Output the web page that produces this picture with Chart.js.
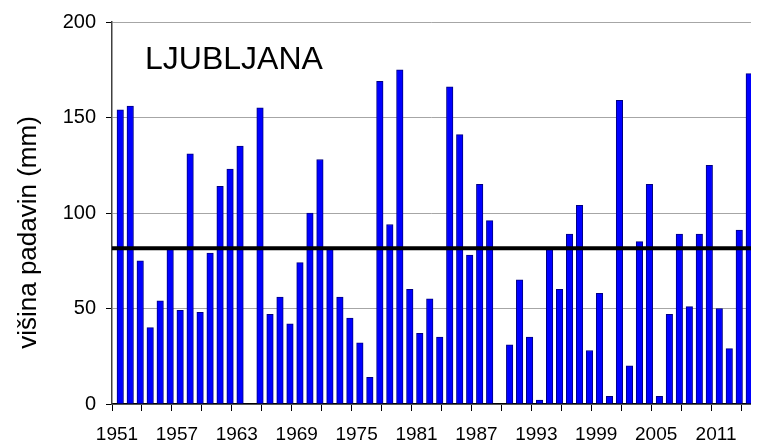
<!DOCTYPE html>
<html>
<head>
<meta charset="utf-8">
<script src="https://cdn.jsdelivr.net/npm/chart.js@4.4.0/dist/chart.umd.min.js"></script>
<style>
html,body{margin:0;padding:0;background:#fff;}
#wrap{width:758px;height:446px;position:relative;}
canvas{display:block;}
</style>
</head>
<body>
<div id="wrap"><canvas id="c" width="758" height="446"></canvas></div>
<script>
// ---- data ----
const years = [
  '1951','1952','1953','1954','1955','1956','1957','1958','1959','1960',
  '1961','1962','1963','1964','1965','1966','1967','1968','1969','1970',
  '1971','1972','1973','1974','1975','1976','1977','1978','1979','1980',
  '1981','1982','1983','1984','1985','1986','1987','1988','1989','1990',
  '1991','1992','1993','1994','1995','1996','1997','1998','1999','2000',
  '2001','2002','2003','2004','2005','2006','2007','2008','2009','2010',
  '2011','2012','2013','2014'
];
const precipitation = [
  154, 156, 75, 40, 54, 82, 49, 131, 48, 79,
  114, 123, 135, null, 155, 47, 56, 42, 74, 100,
  128, 82, 56, 45, 32, 14, 169, 94, 175, 60,
  37, 55, 35, 166, 141, 78, 115, 96, null, 31,
  65, 35, 2, 82, 60, 89, 104, 28, 58, 4,
  159, 20, 85, 115, 4, 47, 89, 51, 89, 125,
  50, 29, 91, 173
];
const meanLabels = ['1951', '2014'];
const meanLine = [81.5, 81.5];
const yTicks = [0, 50, 100, 150, 200];
const chartTitle = 'LJUBLJANA';
const yTitle = 'višina padavin (mm)';

// ---- text plugin ----
const textPlugin = {
  id: 'texts',
  afterDraw(chart) {
    const ctx = chart.ctx;
    ctx.save();
    ctx.fillStyle = '#000';
    ctx.font = '32px "Liberation Sans", Arial, sans-serif';
    ctx.textAlign = 'left';
    ctx.textBaseline = 'alphabetic';
    ctx.fillText(chartTitle, 145, 69);
    ctx.translate(36, 232.5);
    ctx.rotate(-Math.PI / 2);
    ctx.font = '26px "Liberation Sans", Arial, sans-serif';
    ctx.textAlign = 'center';
    ctx.fillText(yTitle, 0, 0);
    ctx.restore();
  }
};

new Chart(document.getElementById('c'), {
  type: 'bar',
  data: {
    labels: years,
    datasets: [
      {
        type: 'line',
        xAxisID: 'x2',
        data: meanLine,
        borderColor: '#000',
        borderWidth: 4,
        pointRadius: 0,
        borderCapStyle: 'butt',
        order: 0
      },
      {
        type: 'bar',
        xAxisID: 'x',
        data: precipitation,
        backgroundColor: '#0000ff',
        borderColor: '#000080',
        borderWidth: 1,
        barThickness: 6.5,
        order: 1
      }
    ]
  },
  options: {
    responsive: false,
    animation: false,
    devicePixelRatio: 1,
    layout: { padding: { top: 22, right: 1, left: 0, bottom: 0 } },
    plugins: { legend: { display: false }, tooltip: { enabled: false } },
    scales: {
      x: {
        type: 'category',
        offset: true,
        grid: {
          offset: true,
          drawOnChartArea: false,
          drawTicks: true,
          tickLength: 7,
          tickWidth: 1,
          tickColor: (ctx) => (ctx.index !== undefined && ctx.index % 3 === 0) ? '#000' : 'rgba(0,0,0,0)'
        },
        border: { color: '#000', width: 1.5 },
        ticks: {
          autoSkip: false,
          maxRotation: 0,
          minRotation: 0,
          padding: 12,
          color: '#000',
          font: { family: '"Liberation Sans", Arial, sans-serif', size: 19 },
          callback: function (v, i) { return i % 6 === 0 ? this.getLabelForValue(v) : ''; }
        },
        afterFit: (s) => { s.height = 42; }
      },
      x2: {
        type: 'category',
        labels: meanLabels,
        offset: false,
        display: false
      },
      y: {
        min: 0,
        max: 200,
        afterBuildTicks: (s) => { s.ticks = yTicks.map(v => ({ value: v })); },
        ticks: {
          padding: 10,
          color: '#000',
          font: { family: '"Liberation Sans", Arial, sans-serif', size: 20 }
        },
        grid: { color: '#a6a6a6', lineWidth: 1, tickLength: 6, tickColor: '#000' },
        border: { color: '#404040', width: 1.5 },
        afterFit: (s) => { s.width = 112; }
      }
    }
  },
  plugins: [textPlugin]
});
</script>
</body>
</html>
